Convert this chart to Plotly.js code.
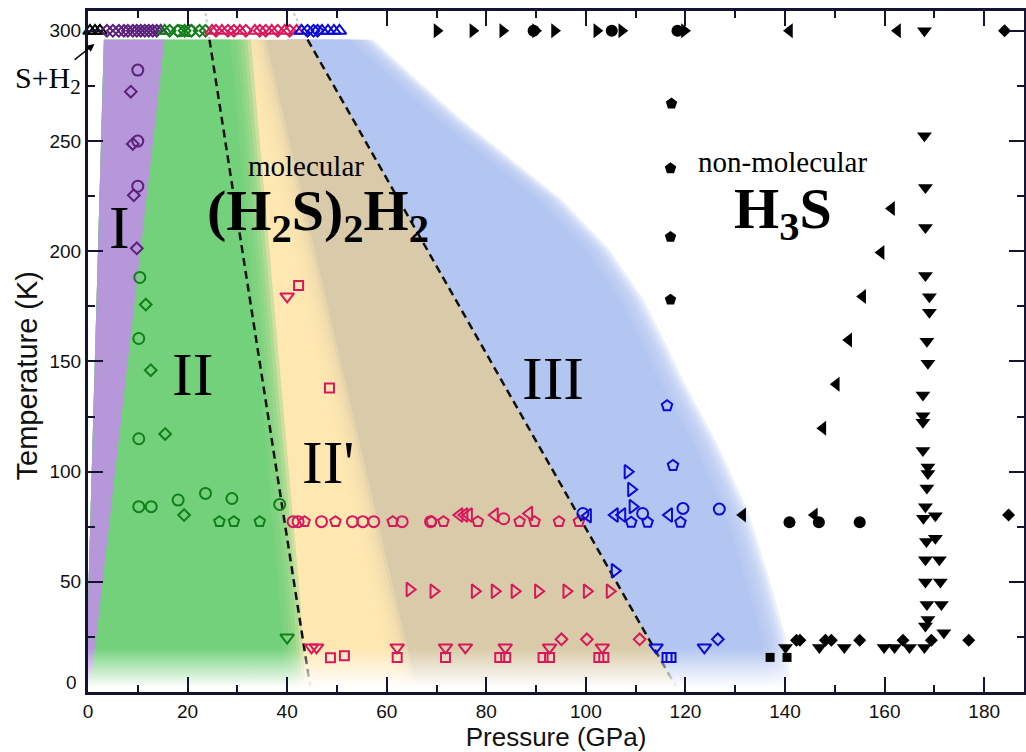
<!DOCTYPE html>
<html><head><meta charset="utf-8">
<script src="https://cdn.plot.ly/plotly-3.0.1.min.js"></script>
<style>html,body{margin:0;padding:0;background:#fff}#chart{width:1026px;height:752px}</style>
</head><body><div id="chart"></div>
<script>
// ================= DATA (pressure in GPa, temperature in K) =================
// S + H2 (black open triangles)
const shX = [0.4, 1.4, 2.4];
const shT = [300, 300, 300];

// Phase I (purple)
const pIdX = [3.8,5.0,6.2,7.2,8.0,9.0,9.8,10.6,11.4,12.2,13.0,13.8,8.6,9.0,9.2,9.8];
const pIdT = [300,300,300,300,300,300,300,300,300,300,300,300,272.4,248.7,225.4,201.3];
const pIcX = [10.0,10.0,10.0];
const pIcT = [282.2,250.0,229.5];
const pItX = [14.6];
const pItT = [300];

// Phase II (green)
const gcX = [10.4,10.2,10.2,10.2,12.7,18.1,23.6,28.9,38.5,18.4,20.4];
const gcT = [188.1,160.4,114.9,84.1,84.1,87.1,90.1,87.8,85.1,300,300];
const gdX = [11.6,12.6,15.5,19.3,16.4,18.0,19.4,20.8,22.4,23.6];
const gdT = [175.8,146.0,117.1,80.3,300,300,300,300,300,300];
const gpX = [26.4,29.3,34.5];
const gpT = [77.3,77.3,77.3];
const gtdX = [40.0];
const gtdT = [24.7];
const gtuX = [15.4];
const gtuT = [300];

// Phase II' / molecular (crimson)
const ctuX = [24.9,26.9,30.5,33.5,36.9,39.5,41.9];
const ctuT = [300,300,300,300,300,300,300];
const cdX = [25.7,28.1,29.3,31.7,34.5,35.7,38.1,40.5,95.1,100.2,110.8];
const cdT = [300,300,300,300,300,300,300,300,23.9,23.9,23.9];
const ctdX = [40.0,44.9,45.9,62.1,71.8,75.8,83.8,92.7,103.3];
const ctdT = [179.5,20.2,20.2,20.2,20.2,20.2,20.2,20.2,20.2];
const csX = [42.3,48.5,48.7,51.5,62.1,71.8,82.7,83.9,91.4,92.7,102.6,103.6];
const csT = [184.5,137.9,15.5,16.5,15.7,15.7,15.7,15.7,15.7,15.7,15.7,15.7];
const ccX = [41.2,42.2,46.9,53.1,55.2,57.4,63.1,68.8,83.5];
const ccT = [77.3,77.3,77.3,77.3,77.3,77.3,77.3,77.3,78.6];
const cpX = [43.5,49.7,61.2,69.0,71.4,78.3,86.7,89.7,94.6,98.6];
const cpT = [77.3,77.3,77.3,77.3,77.3,77.3,77.3,77.3,77.3,77.3];
const ctlX = [74.6,75.6,76.5,81.7,88.6];
const ctlT = [80.3,80.3,80.3,80.3,81.0];
const ctrX = [64.6,69.4,77.7,81.7,85.7,90.4,96.1,100.2,104.8];
const ctrT = [46.5,45.7,45.7,45.7,45.7,45.7,45.7,45.7,45.7];

// Phase III (blue)
const btuX = [42.9,47.0,48.2,49.4,50.5];
const btuT = [300,300,300,300,300];
const bdX = [44.1,45.3,46.1,126.5];
const bdT = [300,300,300,23.9];
const bcX = [99.4,111.4,119.5,126.8];
const bcT = [81.0,81.0,83.3,83.0];
const btlX = [100.4,105.8,107.3,116.7];
const btlT = [80.0,80.3,80.3,80.3];
const btrX = [109.4,108.4,109.1,105.8];
const btrT = [84.1,99.9,91.9,55.0];
const bpX = [109.1,112.4,119.0,116.3,117.5];
const bpT = [77.0,77.0,77.0,129.9,102.8];
const btdX = [114.1,123.8];
const btdT = [20.2,20.2];
const bsX = [116.3,117.1];
const bsT = [15.7,15.7];

// H3S, non-molecular (black, filled)
const ktrX = [70.1,77.3,83.3,89.9,93.7,102.2,107.2,119.8];
const ktrT = [300,300,300,300,300,300,300,300];
const kcX = [89.5,105.2,118.4,140.9,146.8,155.0];
const kcT = [300,300,300,77,77,77];
const ktlX = [140.9,162.6,161.4,159.3,155.6,152.8,150.3,147.6,131.5,145.9];
const ktlT = [300,300,219.4,199.4,179.5,159.7,139.6,119.7,80.3,80.3];
const ktdX = [168.0,168.0,168.2,168.2,168.2,169.0,169.0,168.5,168.7,167.7,167.7,167.7,167.7,168.7,168.7,168.5,168.2,167.8,170.2,170.2,168.4,168.2,171.0,168.2,171.2,168.5,171.4,168.7,168.2,171.9,140.1,146.9,151.9,159.9,162.0,165.0,168.0];
const ktdT = [300,252.4,228.9,210.8,189.0,179.3,172.3,159.2,149.2,134.8,125.4,122.4,109.6,102.1,99.1,92.6,84.1,78.8,80.0,69.8,68.3,60.0,60.0,49.9,49.9,39.7,39.7,32.9,30.0,26.9,20.2,20.2,20.2,20.2,20.2,20.2,20.2];
const kpX = [117.2,117.0,117.0,117.0];
const kpT = [267.0,237.6,206.5,178.0];
const kdX = [184.1,184.9,142.3,143.0,148.1,149.3,155.0,163.7,169.4,176.9];
const kdT = [300,80.3,23.5,23.5,23.5,23.5,23.5,23.5,23.5,23.5];
const ksX = [137.0,140.4];
const ksT = [15.7,15.7];

// Phase-region boundaries (right edge top->bottom, left edge bottom->top)
const purpleX = [3.2, 15.4, 0.4, 0, 0];
const purpleT = [296, 296, 0, 0, 40];
const greenRX = [28.5, 38.5, 39.5];   const greenRT = [296, 40, 0];
const greenLX = [0, 0, 3.2];          const greenLT = [0, 40, 296];
const yellowRX = [31.5, 62.0];        const yellowRT = [296, 0];
const yellowLX = [25, 25];            const yellowLT = [0, 296];
const beigeX = [30, 44.1, 118.7, 30];
const beigeT = [296, 296, 0, 0];
const blueRX = [52.5,61.5,70.5,80.5,90.5,100.0,106.8,111.8,114.6,121.6,127.8,132.0,135.3,136.9];
const blueRT = [296,277.2,259.2,241.2,223.1,200.6,178.0,155.5,142.0,112.6,82.0,51.7,24.7,0];
const blueLX = [40, 40];              const blueLT = [0, 296];
// dashed phase boundaries
const dash1X = [24.4, 44.8];  const dash1T = [296, 0];
const dash1TopX = [23.6, 24.4]; const dash1TopT = [308, 296];
const dash2X = [44.1, 118.7]; const dash2T = [296, 0];
const dash2TopX = [41.3, 44.1]; const dash2TopT = [308, 296];

// ================= TRACES =================
const traces = [];
function poly(xs, ys, color){
  return {type:'scatter', mode:'none', x: xs.concat([xs[0]]), y: ys.concat([ys[0]]),
    fill:'toself', fillcolor: color, hoverinfo:'skip', showlegend:false};
}
function region(rx, rt, lx, lt, rgb, n, step, alpha){
  traces.push(poly(rx.concat(lx), rt.concat(lt), 'rgb(' + rgb + ')'));
  for(let k = 1; k <= n; k++){
    traces.push(poly(rx.map(v => v + k*step).concat(lx), rt.concat(lt), 'rgba(' + rgb + ',' + alpha + ')'));
  }
}
region(blueRX, blueRT, blueLX, blueLT, '179,199,241', 8, 0.6, 0.28);
traces.push(poly(beigeX, beigeT, 'rgb(217,203,169)'));
region(yellowRX, yellowRT, yellowLX, yellowLT, '255,231,178', 6, 0.7, 0.35);
region(greenRX, greenRT, greenLX, greenLT, '114,210,122', 6, 0.7, 0.35);
traces.push(poly(purpleX, purpleT, 'rgb(182,151,217)'));

function line(xs, ys, color, w, dash){
  return {type:'scatter', mode:'lines', x:xs, y:ys, line:{color, width:w, dash}, hoverinfo:'skip', showlegend:false};
}
traces.push(line(dash1X, dash1T, '#111', 2.5, '8px,5px'));
traces.push(line(dash2X, dash2T, '#111', 2.5, '8px,5px'));
traces.push(line(dash1TopX, dash1TopT, '#c8c8c8', 2, '3px,3px'));
traces.push(line(dash2TopX, dash2TopT, '#c8c8c8', 2, '3px,3px'));

// white fade at low temperature
traces.push({type:'scatter', mode:'none', x:[-1,150,150,-1,-1], y:[-2,-2,24,24,-2], fill:'toself',
  fillgradient:{type:'vertical', start:2, stop:20,
    colorscale:[[0,'rgba(255,255,255,1)'],[1,'rgba(255,255,255,0)']]},
  hoverinfo:'skip', showlegend:false});

function mk(x, y, sym, color, size, open){
  return {type:'scatter', mode:'markers', x, y, cliponaxis:false, hoverinfo:'skip', showlegend:false,
    marker:{symbol: open ? sym + '-open' : sym, size, color, line:{width: open ? 2 : 0, color}}};
}
const PU = '#5b1f7c', GR = '#12801a', CR = '#d7195c', BL = '#0b0bd3', BK = '#000000';
traces.push(mk(shX, shT, 'triangle-up', BK, 12, true));
traces.push(mk(pIdX, pIdT, 'diamond', PU, 9, true));
traces.push(mk(pIcX, pIcT, 'circle', PU, 11, true));
traces.push(mk(pItX, pItT, 'triangle-up', PU, 12, true));
traces.push(mk(gcX, gcT, 'circle', GR, 11, true));
traces.push(mk(gdX, gdT, 'diamond', GR, 9, true));
traces.push(mk(gpX, gpT, 'pentagon', GR, 11, true));
traces.push(mk(gtdX, gtdT, 'triangle-down', GR, 12, true));
traces.push(mk(gtuX, gtuT, 'triangle-up', GR, 12, true));
traces.push(mk(ctuX, ctuT, 'triangle-up', CR, 12, true));
traces.push(mk(cdX, cdT, 'diamond', CR, 9, true));
traces.push(mk(ctdX, ctdT, 'triangle-down', CR, 12, true));
traces.push(mk(csX, csT, 'square', CR, 9, true));
traces.push(mk(ccX, ccT, 'circle', CR, 11, true));
traces.push(mk(cpX, cpT, 'pentagon', CR, 11, true));
traces.push(mk(ctlX, ctlT, 'triangle-left', CR, 12, true));
traces.push(mk(ctrX, ctrT, 'triangle-right', CR, 12, true));
traces.push(mk(btuX, btuT, 'triangle-up', BL, 12, true));
traces.push(mk(bdX, bdT, 'diamond', BL, 9, true));
traces.push(mk(bcX, bcT, 'circle', BL, 11, true));
traces.push(mk(btlX, btlT, 'triangle-left', BL, 12, true));
traces.push(mk(btrX, btrT, 'triangle-right', BL, 12, true));
traces.push(mk(bpX, bpT, 'pentagon', BL, 11, true));
traces.push(mk(btdX, btdT, 'triangle-down', BL, 12, true));
traces.push(mk(bsX, bsT, 'square', BL, 9, true));
traces.push(mk(ktrX, ktrT, 'triangle-right', BK, 13, false));
traces.push(mk(kcX, kcT, 'circle', BK, 12, false));
traces.push(mk(ktlX, ktlT, 'triangle-left', BK, 13, false));
traces.push(mk(ktdX, ktdT, 'triangle-down', BK, 13, false));
traces.push(mk(kpX, kpT, 'pentagon', BK, 12, false));
traces.push(mk(kdX, kdT, 'diamond', BK, 10, false));
traces.push(mk(ksX, ksT, 'square', BK, 9, false));

// ================= LAYOUT =================
const AX = '#141432';
const SERIF = 'Liberation Serif, Times New Roman, serif';
const SANS = 'Liberation Sans, Arial, sans-serif';
function ann(text, x, y, size, extra){
  return Object.assign({text, x, y, xref:'x', yref:'y', showarrow:false, xanchor:'center', yanchor:'middle',
    font:{family:SERIF, size, color:'#000'}}, extra || {});
}
const layout = {
  width:1026, height:752,
  margin:{l:88, r:2, t:11, b:60},
  paper_bgcolor:'#fff', plot_bgcolor:'#fff',
  xaxis:{range:[0,188], tickmode:'linear', tick0:0, dtick:20,
    ticks:'inside', ticklen:15, tickwidth:2, tickcolor:AX,
    minor:{ticks:'inside', ticklen:7, tickwidth:2, tickcolor:AX, tickmode:'linear', tick0:0, dtick:10, showgrid:false},
    showline:true, linewidth:3, linecolor:AX, mirror:'ticks', showgrid:false, zeroline:false,
    tickfont:{family:SANS, size:19, color:'#111'},
    title:{text:'Pressure (GPa)', font:{family:SANS, size:26, color:'#111'}, standoff:4}},
  yaxis:{range:[0,309], tickmode:'array', tickvals:[50,100,150,200,250,300],
    ticks:'inside', ticklen:15, tickwidth:2, tickcolor:AX,
    minor:{ticks:'inside', ticklen:7, tickwidth:2, tickcolor:AX, tickmode:'linear', tick0:0, dtick:25, showgrid:false},
    showline:true, linewidth:3, linecolor:AX, mirror:'ticks', showgrid:false, zeroline:false,
    tickfont:{family:SANS, size:19, color:'#111'}},
  annotations:[
    {text:'0', xref:'paper', x:0, xanchor:'right', xshift:-9, yref:'y', y:4.3, yanchor:'middle', showarrow:false,
      font:{family:SANS, size:19, color:'#111'}},
    {text:'Temperature (K)', xref:'paper', yref:'paper', x:-0.065, y:0.465, textangle:-90,
      xanchor:'center', yanchor:'middle', showarrow:false, font:{family:SANS, size:29, color:'#111'}},
    ann('I', 6.3, 211.0, 62),
    ann('II', 21.0, 144.5, 62),
    ann("II'", 48.2, 104.4, 62),
    ann('III', 93.4, 142.7, 62),
    ann('molecular', 43.8, 238.5, 29),
    ann('<b>(H<sub>2</sub>S)<sub>2</sub>H<sub>2</sub></b>', 46.2, 216.5, 58),
    ann('non-molecular', 139.5, 240.5, 29),
    ann('<b>H<sub>3</sub>S</b>', 139.5, 217.5, 58),
    {text:'S+H<sub>2</sub>', x:1.3, y:294, xref:'x', yref:'y', axref:'pixel', ayref:'pixel', ax:-46, ay:36,
      showarrow:true, arrowhead:2, arrowsize:1, arrowwidth:1.5, arrowcolor:'#000',
      font:{family:SERIF, size:30, color:'#000'}}
  ]
};
Plotly.newPlot('chart', traces, layout, {displayModeBar:false, staticPlot:true});
</script>
</body></html>
